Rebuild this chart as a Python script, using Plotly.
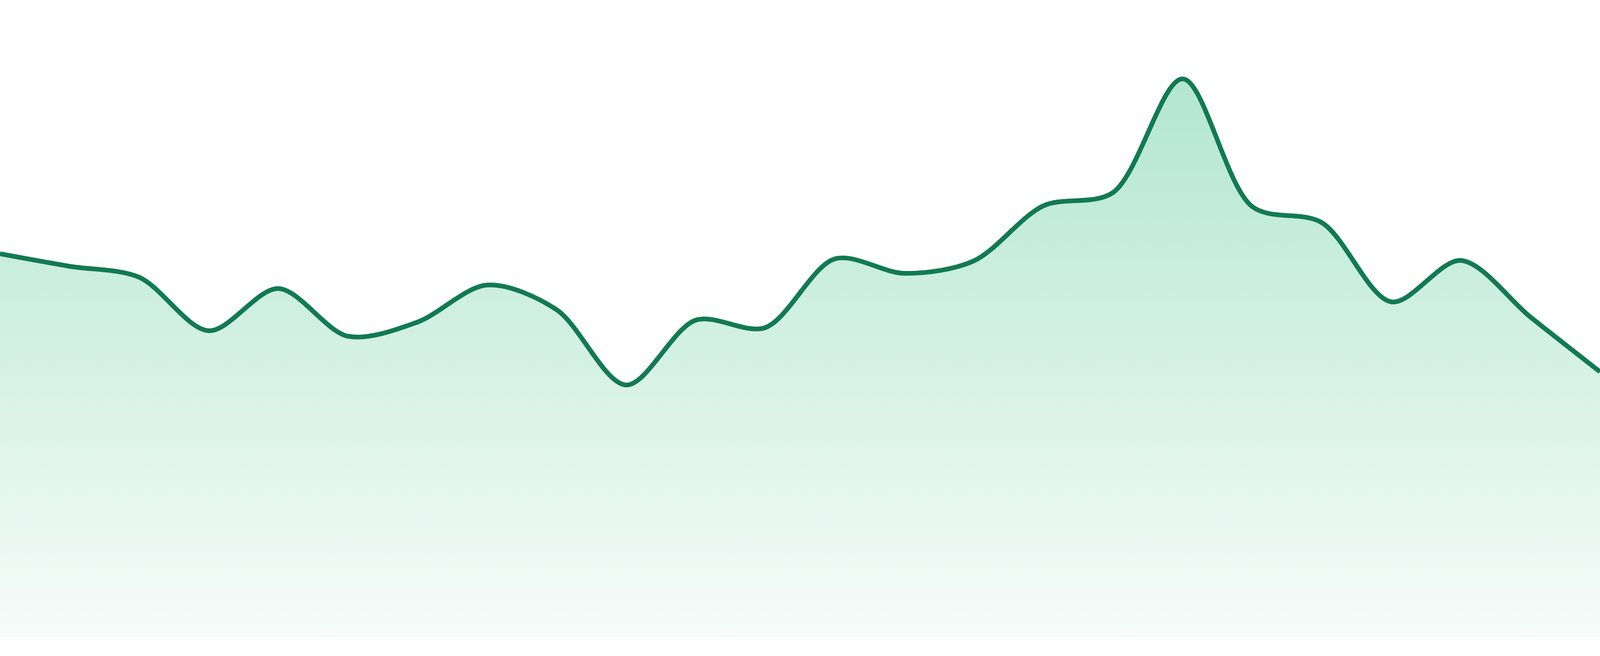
import plotly.graph_objects as go

# one reading per step, left to right
steps = list(range(24))
values = [98.2, 95.0, 92.2, 78.5, 89.3, 77.1, 80.7, 90.2, 83.9, 64.6, 81.2, 79.3,
          96.9, 93.2, 96.4, 110.5, 113.9, 143.0, 110.3, 106.2, 85.9, 96.5, 82.0, 68.0]

line_color = "#127a52"

fig = go.Figure(go.Scatter(
    x=steps,
    y=values,
    mode="lines",
    line=dict(color=line_color, width=12, shape="spline", smoothing=0.9),
    fill="tozeroy",
    fillgradient=dict(
        type="vertical",
        start=0,
        stop=143,
        colorscale=[[0, "#f7fcfa"], [1, "#b2e6d0"]],
    ),
    hoverinfo="skip",
))

fig.update_layout(
    autosize=True,
    margin=dict(l=0, r=0, t=0, b=0),
    paper_bgcolor="white", plot_bgcolor="white",
    showlegend=False,
    xaxis=dict(range=[0, 23], visible=False, fixedrange=True),
    yaxis=dict(range=[-4.8, 163.2], visible=False, fixedrange=True),
)

# fill the browser window exactly, whatever its css size is
fix_page = (
    "document.body.style.margin='0';"
    "document.documentElement.style.overflow='hidden';"
    "document.body.style.overflow='hidden';"
    "Plotly.Plots.resize(document.getElementById('{plot_id}'));"
)

fig.write_html(
    "out.html",
    default_width="100vw",
    default_height="100vh",
    config={"displayModeBar": False, "responsive": True},
    post_script=fix_page,
)
